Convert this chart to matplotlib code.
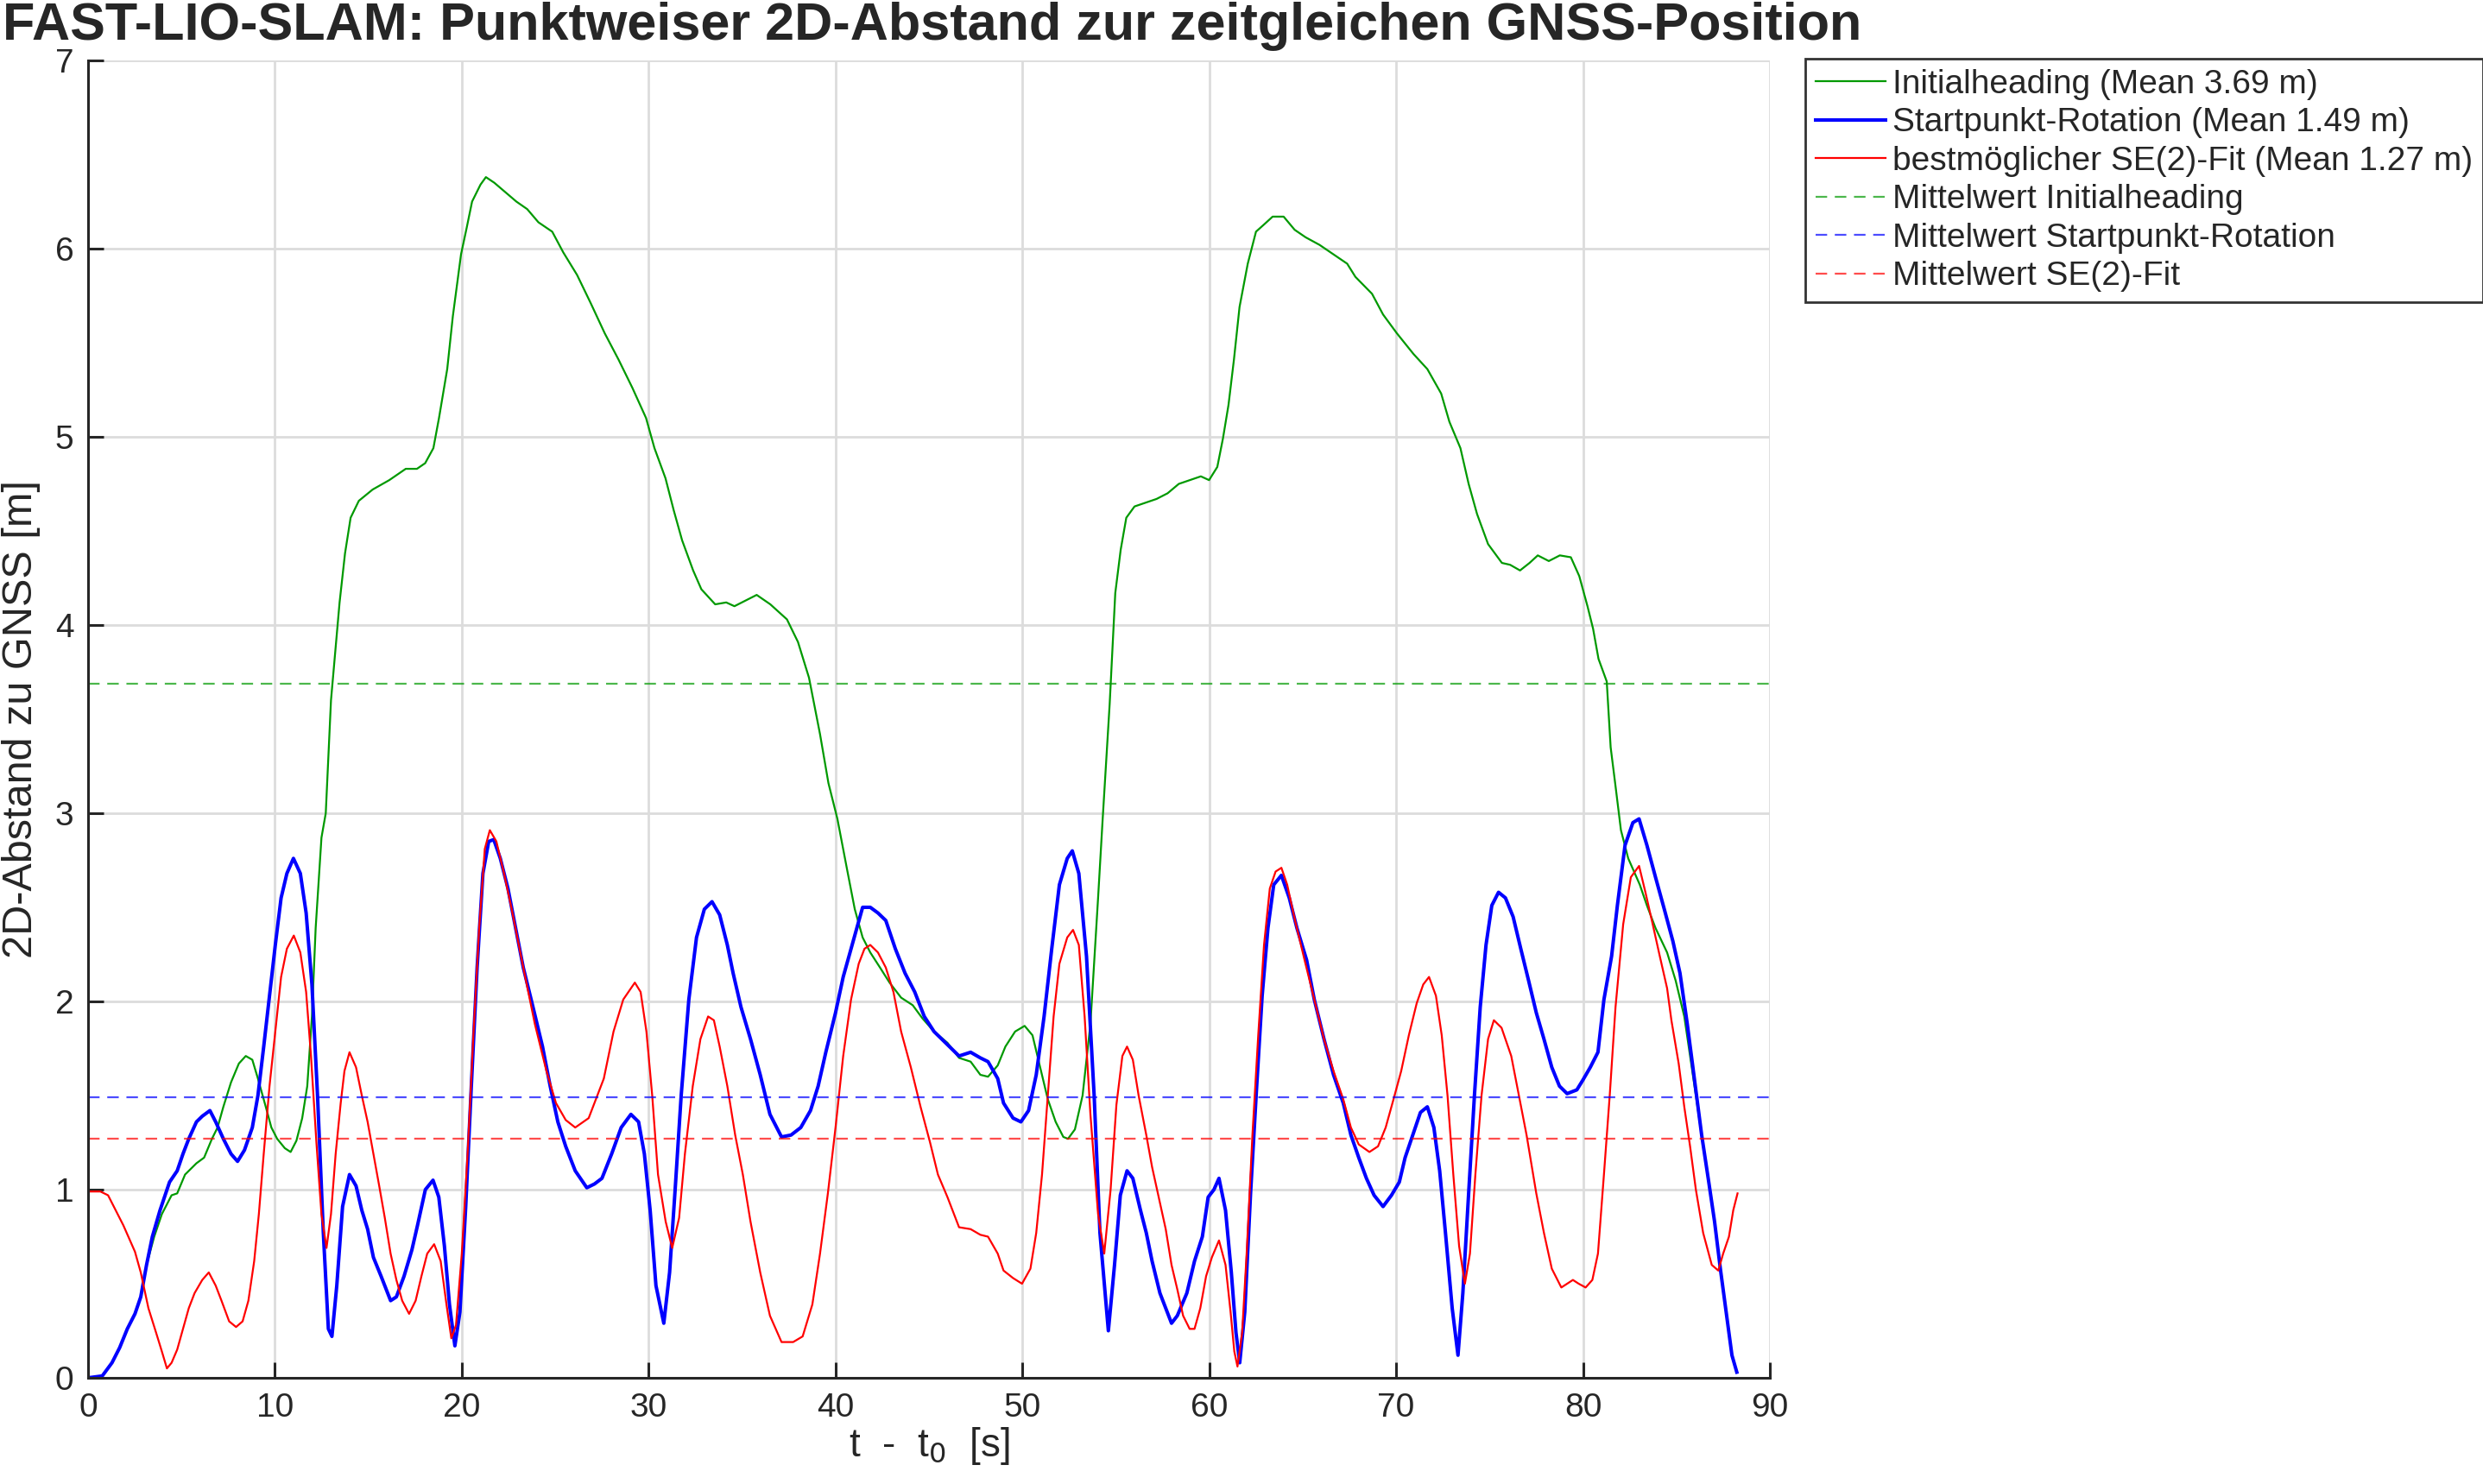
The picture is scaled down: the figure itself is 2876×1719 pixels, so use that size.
import matplotlib
matplotlib.use("Agg")
import matplotlib.pyplot as plt

plt.rcParams['font.family'] = ['Liberation Sans Narrow', 'Liberation Sans', 'DejaVu Sans']

# Time stamps [s] and 2D distances [m]
t_init = [0, 0.76, 1.28, 1.69, 2.1, 2.51, 2.82, 3.13, 3.54, 3.95, 4.47, 4.77, 5.19, 5.8, 6.21, 6.63, 6.93,
          7.24, 7.65, 8.07, 8.44, 8.79, 9.09, 9.51, 9.81, 10.12, 10.53, 10.84, 11.15, 11.46, 11.73, 11.98,
          12.18, 12.49, 12.72, 13.0, 13.46, 13.75, 14.05, 14.49, 15.23, 16.12, 17.0, 17.6, 18.04, 18.48,
          18.78, 19.22, 19.52, 19.96, 20.26, 20.55, 21.0, 21.29, 21.74, 22.33, 22.92, 23.5, 24.1, 24.84,
          25.43, 26.17, 26.9, 27.65, 28.39, 29.13, 29.86, 30.31, 30.9, 31.34, 31.79, 32.38, 32.82, 33.56,
          34.15, 34.59, 35.18, 35.78, 36.51, 37.4, 37.99, 38.58, 39.17, 39.62, 40.1, 40.62, 41.03, 41.45,
          41.86, 42.38, 42.89, 43.51, 44.13, 44.65, 45.27, 45.99, 46.61, 47.23, 47.75, 48.16, 48.68, 49.09,
          49.61, 50.12, 50.54, 50.95, 51.36, 51.78, 52.19, 52.44, 52.81, 53.22, 53.64, 54.05, 54.29, 54.67,
          54.97, 55.26, 55.56, 56.0, 56.59, 57.18, 57.77, 58.37, 58.96, 59.55, 59.99, 60.43, 60.73, 61.03,
          61.32, 61.62, 62.06, 62.5, 62.95, 63.39, 63.98, 64.57, 65.16, 65.9, 66.64, 67.38, 67.82, 68.71,
          69.3, 70.04, 70.93, 71.67, 72.41, 72.85, 73.44, 73.88, 74.33, 74.92, 75.66, 76.1, 76.63, 77.14,
          77.58, 78.17, 78.76, 79.35, 79.8, 80.24, 80.54, 80.83, 81.27, 81.48, 81.72, 82.03, 82.42, 83.04,
          83.42, 83.88, 84.5, 84.96, 85.42, 85.73, 86.19, 86.35, 86.73, 87.04, 87.35, 87.66, 87.97, 88.23]
d_init = [0, 0.01, 0.08, 0.16, 0.26, 0.34, 0.43, 0.6, 0.75, 0.87, 0.97, 0.98, 1.08, 1.14, 1.17, 1.27, 1.33,
          1.44, 1.57, 1.67, 1.71, 1.69, 1.59, 1.44, 1.33, 1.27, 1.22, 1.2, 1.26, 1.38, 1.55, 1.92,
          2.39, 2.87, 3.0, 3.6, 4.12, 4.38, 4.57, 4.66, 4.72, 4.77, 4.83, 4.83, 4.86, 4.94,
          5.1, 5.36, 5.64, 5.97, 6.11, 6.25, 6.34, 6.38, 6.35, 6.3, 6.25, 6.21, 6.14, 6.09,
          5.98, 5.86, 5.71, 5.55, 5.41, 5.26, 5.1, 4.94, 4.78, 4.61, 4.45, 4.29, 4.19, 4.11,
          4.12, 4.1, 4.13, 4.16, 4.11, 4.03, 3.91, 3.72, 3.42, 3.16, 2.97, 2.7, 2.49, 2.34,
          2.26, 2.18, 2.1, 2.02, 1.98, 1.91, 1.84, 1.78, 1.7, 1.68, 1.61, 1.6, 1.66, 1.76,
          1.84, 1.87, 1.82, 1.65, 1.48, 1.36, 1.28, 1.27, 1.32, 1.5, 1.88, 2.55, 2.96, 3.58,
          4.17, 4.4, 4.57, 4.63, 4.65, 4.67, 4.7, 4.75, 4.77, 4.79, 4.77, 4.84, 4.99, 5.17,
          5.41, 5.69, 5.92, 6.09, 6.13, 6.17, 6.17, 6.1, 6.06, 6.02, 5.97, 5.92, 5.85, 5.76,
          5.65, 5.55, 5.44, 5.36, 5.23, 5.08, 4.94, 4.75, 4.59, 4.43, 4.33, 4.32, 4.29, 4.33,
          4.37, 4.34, 4.37, 4.36, 4.26, 4.1, 3.98, 3.82, 3.7, 3.35, 3.16, 2.91, 2.76, 2.62,
          2.51, 2.39, 2.26, 2.11, 1.92, 1.71, 1.4, 1.29, 1.04, 0.83, 0.58, 0.35, 0.12, 0.03]

t_start = [0, 0.76, 1.28, 1.69, 2.1, 2.51, 2.82, 3.13, 3.44, 3.85, 4.36, 4.77, 5.08, 5.39, 5.8, 6.11, 6.52,
           6.83, 7.24, 7.65, 8.0, 8.37, 8.79, 9.09, 9.4, 9.71, 10.02, 10.33, 10.64, 10.99, 11.36, 11.67,
           11.98, 12.28, 12.59, 12.86, 13.05, 13.31, 13.62, 13.99, 14.34, 14.65, 14.96, 15.27, 15.68,
           16.19, 16.5, 16.91, 17.33, 17.63, 18.05, 18.46, 18.77, 19.07, 19.34, 19.63, 19.9, 20.21, 20.51,
           20.82, 21.13, 21.44, 21.71, 22.06, 22.47, 22.88, 23.29, 23.81, 24.32, 24.73, 25.14, 25.56,
           26.07, 26.69, 27.1, 27.5, 28.02, 28.53, 29.05, 29.46, 29.77, 30.08, 30.39, 30.81, 31.12, 31.43,
           31.74, 32.15, 32.56, 32.98, 33.39, 33.8, 34.21, 34.52, 34.94, 35.45, 35.97, 36.49, 37.11, 37.62,
           38.14, 38.66, 39.07, 39.48, 40.0, 40.41, 40.83, 41.14, 41.45, 41.86, 42.27, 42.69, 43.2, 43.72,
           44.24, 44.75, 45.27, 45.99, 46.61, 47.23, 47.75, 48.16, 48.68, 48.99, 49.5, 49.92, 50.33, 50.74,
           51.16, 51.57, 51.98, 52.4, 52.67, 53.02, 53.43, 53.84, 54.15, 54.6, 54.93, 55.24, 55.6, 55.91,
           56.32, 56.63, 56.94, 57.36, 57.67, 57.98, 58.29, 58.8, 59.21, 59.63, 59.94, 60.25, 60.52, 60.87,
           61.18, 61.43, 61.63, 61.9, 62.21, 62.52, 62.83, 63.14, 63.45, 63.86, 64.28, 64.69, 65.21, 65.62,
           66.14, 66.65, 67.17, 67.58, 68.0, 68.41, 68.82, 69.3, 69.75, 70.17, 70.48, 70.89, 71.3, 71.67,
           72.02, 72.33, 72.64, 73.0, 73.31, 73.57, 73.88, 74.19, 74.5, 74.81, 75.12, 75.48, 75.85, 76.26,
           76.67, 77.09, 77.5, 77.91, 78.33, 78.74, 79.15, 79.67, 79.98, 80.39, 80.8, 81.12, 81.53, 81.84,
           82.25, 82.67, 83.0, 83.42, 83.88, 84.35, 84.81, 85.19, 85.58, 85.96, 86.35, 86.73, 87.04, 87.35,
           87.66, 87.97, 88.23]
d_start = [0, 0.01, 0.08, 0.16, 0.26, 0.34, 0.43, 0.6, 0.75, 0.89, 1.04, 1.1, 1.19, 1.27, 1.36, 1.39, 1.42,
           1.36, 1.27, 1.19, 1.15, 1.21, 1.33, 1.5, 1.76, 2.03, 2.3, 2.55, 2.68, 2.76, 2.68, 2.47,
           2.09, 1.5, 0.77, 0.26, 0.22, 0.49, 0.91, 1.08, 1.02, 0.89, 0.79, 0.64, 0.54,
           0.41, 0.43, 0.54, 0.68, 0.81, 1.0, 1.05, 0.96, 0.7, 0.39, 0.17, 0.35, 0.91, 1.55,
           2.18, 2.68, 2.85, 2.86, 2.76, 2.6, 2.39, 2.18, 1.97, 1.76, 1.55, 1.36, 1.23,
           1.1, 1.01, 1.03, 1.06, 1.19, 1.33, 1.4, 1.36, 1.19, 0.89, 0.49, 0.29, 0.56, 1.02,
           1.5, 2.01, 2.34, 2.49, 2.53, 2.46, 2.3, 2.15, 1.97, 1.8, 1.61, 1.4, 1.28, 1.29,
           1.33, 1.42, 1.55, 1.73, 1.94, 2.13, 2.28, 2.39, 2.5, 2.5, 2.47, 2.43, 2.28, 2.15,
           2.05, 1.92, 1.84, 1.77, 1.71, 1.73, 1.7, 1.68, 1.59, 1.46, 1.38, 1.36, 1.42, 1.61,
           1.92, 2.28, 2.62, 2.76, 2.8, 2.68, 2.24, 1.5, 0.77, 0.25, 0.6, 0.97, 1.1, 1.06,
           0.89, 0.77, 0.62, 0.45, 0.37, 0.29, 0.33, 0.45, 0.62, 0.75, 0.96, 1.0, 1.06, 0.89,
           0.56, 0.24, 0.08, 0.35, 0.98, 1.52, 2.03, 2.39, 2.62, 2.67, 2.55, 2.39, 2.22, 2.01,
           1.8, 1.61, 1.46, 1.29, 1.17, 1.06, 0.97, 0.91, 0.97, 1.04, 1.17, 1.29, 1.41, 1.44,
           1.33, 1.1, 0.77, 0.37, 0.12, 0.45, 0.98, 1.5, 1.97, 2.3, 2.51, 2.58, 2.55, 2.45,
           2.28, 2.11, 1.94, 1.8, 1.65, 1.55, 1.51, 1.53, 1.58, 1.65, 1.73, 2.01, 2.24, 2.51,
           2.83, 2.95, 2.97, 2.83, 2.66, 2.49, 2.32, 2.15, 1.88, 1.59, 1.29, 1.04, 0.83, 0.58,
           0.35, 0.12, 0.03]

t_se2 = [0, 0.66, 1.07, 1.48, 1.89, 2.2, 2.51, 2.82, 3.23, 3.64, 3.95, 4.22, 4.47, 4.77, 5.08, 5.39, 5.7,
         6.11, 6.46, 6.83, 7.14, 7.55, 7.92, 8.27, 8.58, 8.89, 9.14, 9.4, 9.71, 10.02, 10.33, 10.64, 11.01,
         11.36, 11.67, 11.93, 12.22, 12.49, 12.76, 13.0, 13.25, 13.52, 13.72, 13.99, 14.34, 14.65, 14.96,
         15.27, 15.58, 15.88, 16.19, 16.5, 16.81, 17.18, 17.53, 17.84, 18.15, 18.52, 18.87, 19.18, 19.44,
         19.69, 20.0, 20.31, 20.62, 20.93, 21.23, 21.5, 21.85, 22.26, 22.67, 23.29, 23.91, 24.53, 25.04,
         25.56, 26.07, 26.79, 27.6, 28.12, 28.64, 29.26, 29.57, 29.88, 30.19, 30.5, 30.91, 31.26, 31.63,
         31.94, 32.36, 32.77, 33.18, 33.49, 33.8, 34.21, 34.63, 35.04, 35.45, 35.97, 36.49, 37.11, 37.73,
         38.24, 38.76, 39.17, 39.59, 40.0, 40.41, 40.83, 41.24, 41.55, 41.86, 42.27, 42.69, 43.1, 43.51,
         44.03, 44.55, 45.06, 45.48, 45.99, 46.61, 47.23, 47.75, 48.16, 48.68, 48.99, 49.5, 49.98, 50.43,
         50.74, 51.05, 51.36, 51.67, 51.98, 52.4, 52.71, 53.02, 53.33, 53.64, 54.05, 54.38, 54.72, 55.03,
         55.35, 55.6, 55.91, 56.22, 56.63, 56.94, 57.25, 57.67, 57.98, 58.29, 58.6, 58.95, 59.21, 59.52,
         59.83, 60.14, 60.52, 60.87, 61.14, 61.34, 61.51, 61.76, 62.0, 62.31, 62.62, 62.93, 63.24, 63.55,
         63.86, 64.17, 64.59, 65.1, 65.62, 66.14, 66.65, 67.17, 67.58, 68.0, 68.57, 69.03, 69.44, 69.86,
         70.27, 70.68, 71.1, 71.45, 71.76, 72.13, 72.44, 72.75, 73.06, 73.37, 73.68, 73.95, 74.24, 74.57,
         74.92, 75.23, 75.64, 76.16, 76.57, 76.98, 77.5, 77.91, 78.33, 78.84, 79.46, 79.77, 80.14, 80.5,
         80.8, 81.12, 81.43, 81.74, 82.15, 82.56, 83.0, 83.34, 83.73, 84.11, 84.5, 84.73, 85.12, 85.42,
         85.73, 86.04, 86.43, 86.89, 87.24, 87.5, 87.81, 88.04, 88.27]
d_se2 = [0.99, 0.99, 0.97, 0.89, 0.81, 0.74, 0.67, 0.56, 0.37, 0.24, 0.14, 0.05, 0.08, 0.15, 0.26, 0.37, 0.45,
         0.52, 0.56, 0.49, 0.41, 0.3, 0.27, 0.3, 0.41, 0.62, 0.87, 1.19, 1.55, 1.84, 2.13, 2.28, 2.35,
         2.26, 2.05, 1.71, 1.25, 0.87, 0.69, 0.87, 1.19, 1.46, 1.63, 1.73, 1.65, 1.5, 1.36,
         1.19, 1.02, 0.85, 0.66, 0.52, 0.41, 0.34, 0.41, 0.54, 0.66, 0.71, 0.62, 0.39, 0.21,
         0.28, 0.66, 1.19, 1.82, 2.39, 2.81, 2.91, 2.85, 2.68, 2.49, 2.18, 1.88, 1.63, 1.46,
         1.37, 1.33, 1.38, 1.59, 1.84, 2.01, 2.1, 2.05, 1.84, 1.5, 1.08, 0.83, 0.69, 0.85,
         1.19, 1.55, 1.8, 1.92, 1.9, 1.76, 1.55, 1.29, 1.08, 0.83, 0.56, 0.33, 0.19, 0.19,
         0.22, 0.39, 0.66, 0.98, 1.33, 1.71, 2.01, 2.2, 2.28, 2.3, 2.26, 2.18, 2.05, 1.84,
         1.65, 1.44, 1.25, 1.08, 0.96, 0.8, 0.79, 0.76, 0.75, 0.66, 0.57, 0.53, 0.5, 0.58,
         0.77, 1.08, 1.5, 1.92, 2.2, 2.34, 2.38, 2.3, 1.92, 1.4, 0.87, 0.66, 1.0, 1.45,
         1.71, 1.76, 1.69, 1.5, 1.29, 1.12, 0.98, 0.79, 0.6, 0.47, 0.33, 0.26, 0.26, 0.37,
         0.54, 0.64, 0.73, 0.6, 0.35, 0.14, 0.06, 0.24, 0.66, 1.29, 1.82, 2.3, 2.6, 2.69,
         2.71, 2.62, 2.43, 2.22, 2.01, 1.8, 1.63, 1.48, 1.33, 1.24, 1.2, 1.23, 1.33, 1.48,
         1.63, 1.82, 1.99, 2.09, 2.13, 2.03, 1.82, 1.5, 1.08, 0.7, 0.5, 0.66, 1.08, 1.5,
         1.8, 1.9, 1.86, 1.71, 1.5, 1.29, 0.98, 0.77, 0.58, 0.48, 0.52, 0.5, 0.48, 0.52,
         0.66, 1.08, 1.5, 1.97, 2.41, 2.66, 2.72, 2.58, 2.41, 2.24, 2.07, 1.9, 1.67, 1.44,
         1.23, 1.0, 0.77, 0.6, 0.57, 0.66, 0.75, 0.89, 0.98]

mean_init = 3.69
mean_start = 1.49
mean_se2 = 1.27

c_green = (0, 0.6, 0)
c_blue = (0, 0, 1)
c_red = (1, 0, 0)
ax_col = '#262626'

fig = plt.figure(figsize=(28.76, 17.19), dpi=100)
ax = fig.add_axes([102 / 2876, 1 - 1596 / 1719, (2050 - 102) / 2876, (1596 - 70) / 1719])

ax.plot(t_init, d_init, color=c_green, lw=1.6, label=f'Initialheading (Mean {mean_init:.2f} m)')
ax.plot(t_start, d_start, color=c_blue, lw=2.9, label=f'Startpunkt-Rotation (Mean {mean_start:.2f} m)')
ax.plot(t_se2, d_se2, color=c_red, lw=1.6, label=f'bestmöglicher SE(2)-Fit (Mean {mean_se2:.2f} m)')
ax.axhline(mean_init, color=c_green, alpha=0.7, lw=1.6, dashes=(6, 4), label='Mittelwert Initialheading')
ax.axhline(mean_start, color=c_blue, alpha=0.7, lw=1.6, dashes=(6, 4), label='Mittelwert Startpunkt-Rotation')
ax.axhline(mean_se2, color=c_red, alpha=0.7, lw=1.6, dashes=(6, 4), label='Mittelwert SE(2)-Fit')

ax.set_xlim(0, 90)
ax.set_ylim(0, 7)
ax.set_xticks(range(0, 91, 10))
ax.set_yticks(range(0, 8))
ax.grid(True, color='#dcdcdc', lw=2.0)
ax.set_axisbelow(True)
for s in ['top', 'right']:
    ax.spines[s].set_visible(False)
for s in ['left', 'bottom']:
    ax.spines[s].set_color(ax_col)
    ax.spines[s].set_linewidth(2.2)
ax.tick_params(direction='in', length=13, width=2.2, colors=ax_col, labelsize=28, pad=12)

ax.set_xlabel(r't  -  t$_0$  [s]', fontsize=33, color=ax_col, labelpad=2)
ax.set_ylabel('2D-Abstand zu GNSS [m]', fontsize=35, color=ax_col, labelpad=12)

fig.text(0.001, 0.999, 'FAST-LIO-SLAM: Punktweiser 2D-Abstand zur zeitgleichen GNSS-Position',
         fontsize=44, fontweight='bold', color=ax_col, ha='left', va='top')

leg = ax.legend(loc='upper left', bbox_to_anchor=(2091 / 2876, 1 - 68 / 1719),
                bbox_transform=fig.transFigure, fontsize=28, frameon=True, fancybox=False,
                edgecolor='black', handlelength=2.1, handletextpad=0.2, labelspacing=0.22,
                borderpad=0.3, borderaxespad=0)
leg.get_frame().set_linewidth(2.0)
for txt in leg.get_texts():
    txt.set_color(ax_col)

fig.savefig('out.png', dpi=100)
